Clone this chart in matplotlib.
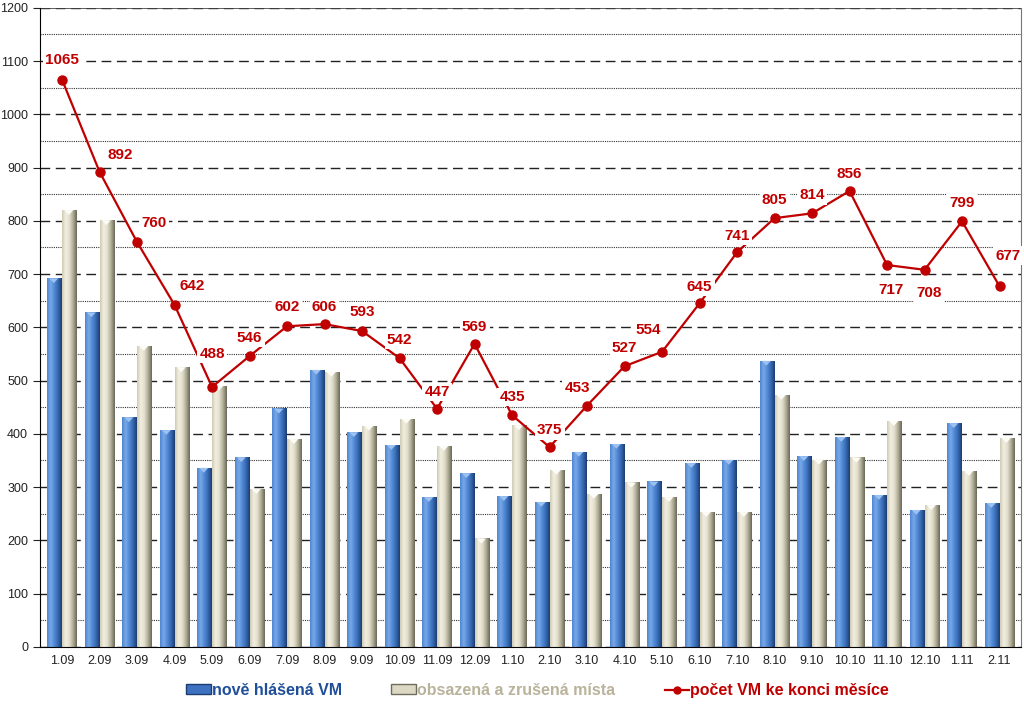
import numpy as np
import matplotlib
matplotlib.use("Agg")
import matplotlib.pyplot as plt
from matplotlib.colors import LinearSegmentedColormap
from matplotlib.patches import Patch
from matplotlib.lines import Line2D
from matplotlib.ticker import MultipleLocator

plt.rcParams['font.family'] = ['Liberation Sans', 'DejaVu Sans']

# data
months = ['1.09', '2.09', '3.09', '4.09', '5.09', '6.09', '7.09', '8.09', '9.09', '10.09',
          '11.09', '12.09', '1.10', '2.10', '3.10', '4.10', '5.10', '6.10', '7.10', '8.10',
          '9.10', '10.10', '11.10', '12.10', '1.11', '2.11']
nove = [692, 628, 431, 407, 336, 356, 447, 520, 403, 379,
        281, 326, 283, 272, 366, 381, 310, 345, 351, 537,
        358, 394, 285, 257, 420, 270]
obsazena = [820, 801, 565, 525, 490, 296, 390, 516, 415, 428,
            377, 203, 416, 332, 287, 308, 281, 253, 253, 473,
            351, 355, 424, 266, 330, 392]
pocet = [1065, 892, 760, 642, 488, 546, 602, 606, 593, 542,
         447, 569, 435, 375, 453, 527, 554, 645, 741, 805,
         814, 856, 717, 708, 799, 677]

# label offsets in points (dx, dy)
offsets = [(0, 14), (15, 12), (12, 14), (13, 14), (0, 24), (0, 13), (0, 14), (0, 12), (0, 14), (0, 13),
           (0, 12), (0, 12), (0, 13), (0, 12), (-7, 13), (0, 13), (-10, 16), (0, 12), (0, 12), (0, 13),
           (0, 13), (0, 12), (3, -18), (3, -17), (0, 13), (6, 22)]

fig = plt.figure(figsize=(10.24, 7.10), dpi=100)
ax = fig.add_axes([0.039, 0.089, 0.958, 0.9])

x = np.arange(len(months))
w = 0.4

blue_cm = LinearSegmentedColormap.from_list('b', ['#4f86d2', '#78a8e6', '#5088d4', '#3567b0', '#1d3d70'])
beige_cm = LinearSegmentedColormap.from_list('g', ['#cfcbb5', '#f2efe2', '#e2decb', '#aeab95', '#6a6858'])
grad = np.linspace(0, 1, 64).reshape(1, -1)

bars1 = ax.bar(x - w / 2, nove, w, color='none', zorder=2)
bars2 = ax.bar(x + w / 2, obsazena, w, color='none', zorder=2)
for bars, cm, top in ((bars1, blue_cm, '#9cc2f2'), (bars2, beige_cm, '#fdfcf6')):
    for b in bars:
        x0, h, bw = b.get_x(), b.get_height(), b.get_width()
        ax.imshow(grad, cmap=cm, aspect='auto', extent=(x0, x0 + bw, 0, h), zorder=2)
        ax.fill([x0 + bw * 0.15, x0 + bw * 0.75, x0 + bw * 0.45], [h, h, h - 9], color=top, zorder=3, lw=0)

ax.plot(x, pocet, color='#c00000', lw=1.6, marker='o', ms=6.5, zorder=4)
for xi, v, (dx, dy) in zip(x, pocet, offsets):
    ax.annotate(str(v), (xi, v), xytext=(dx, dy), textcoords='offset points', ha='center', va='center',
                color='#c00000', fontsize=11, fontweight='bold', zorder=5,
                bbox=dict(boxstyle='square,pad=0.15', fc='white', ec='none'))

ax.set_xlim(-0.59, 25.57)
ax.set_ylim(0, 1200)
ax.yaxis.set_major_locator(MultipleLocator(100))
ax.yaxis.set_minor_locator(MultipleLocator(50))
ax.grid(which='major', axis='y', color='#222222', ls=(0, (7, 4)), lw=1.0, zorder=1)
ax.grid(which='minor', axis='y', color='#333333', ls=(0, (1, 1)), lw=0.8, zorder=1)
ax.axhline(1200, color='#444444', lw=1.2, zorder=1)
ax.set_axisbelow(True)
ax.set_xticks(x)
ax.set_xticklabels(months)
ax.tick_params(axis='x', length=0, labelsize=9, pad=6, colors='#222222')
ax.tick_params(axis='y', which='major', length=5, labelsize=9, colors='#222222')
ax.tick_params(axis='y', which='minor', length=0)
ax.spines['left'].set_color('black')
ax.spines['bottom'].set_color('black')
ax.spines['right'].set_color('#777777')
ax.spines['top'].set_visible(False)

handles = [Patch(facecolor='#3e72c0', edgecolor='#1d3d70'),
           Patch(facecolor='#dcd8c4', edgecolor='#6e6c5c'),
           Line2D([], [], color='#c00000', marker='o', ms=5, lw=1.6)]
labels = ['nově hlášená VM', 'obsazená a zrušená místa', 'počet VM ke konci měsíce']
fig.legend(handles, labels, loc='lower center', bbox_to_anchor=(0.525, -0.003), ncol=3, frameon=False,
           labelcolor=['#1f4e9a', '#b9b39b', '#c00000'], prop={'weight': 'bold', 'size': 11.5},
           handlelength=1.55, handleheight=0.55, handletextpad=0.05, columnspacing=3.1)

fig.savefig('out.png', dpi=100)
